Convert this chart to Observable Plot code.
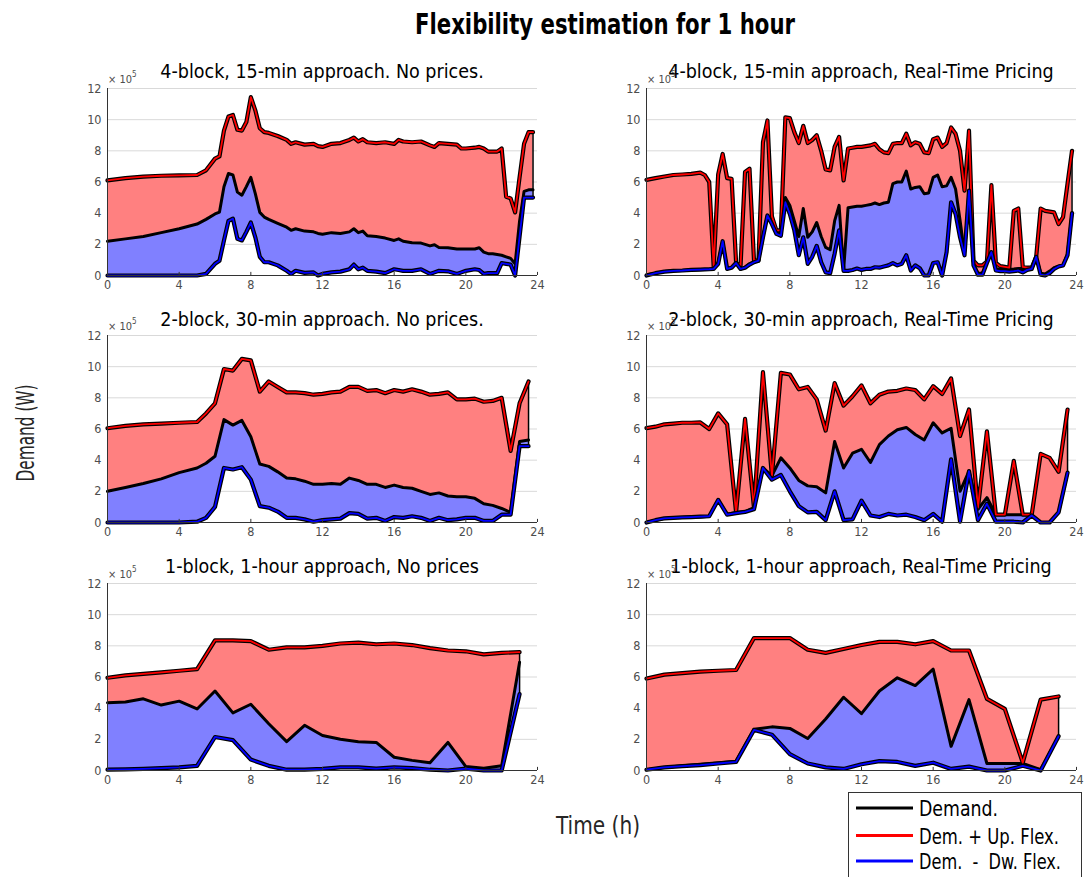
<!DOCTYPE html>
<html><head><meta charset="utf-8">
<script src="https://cdn.jsdelivr.net/npm/d3@7"></script>
<script src="https://cdn.jsdelivr.net/npm/@observablehq/plot@0.6"></script>
<style>
body{margin:0;background:#fff;}
#root{position:relative;width:1089px;height:877px;overflow:hidden;font-family:"Liberation Sans Narrow","DejaVu Sans Condensed",sans-serif;}
.panel{position:absolute;}
#overlay{position:absolute;left:0;top:0;pointer-events:none;}
</style></head><body><div id="root"></div>
<script>
// ---------- tick labels ----------
const xTicks = [0,4,8,12,16,20,24];
const yTicks = [0,2,4,6,8,10,12];

// ---------- 4-block, 15-min, No prices (values ×10^5 W) ----------
const tlT   = [0,1,2,3,4,5,5.5,6,6.25,6.5,6.75,7,7.25,7.5,7.75,8,8.25,8.5,8.75,9,9.5,10,10.25,10.5,11,11.5,11.75,12,12.5,13,13.5,13.75,14,14.25,14.5,15,15.5,16,16.25,16.5,17,17.5,18,18.25,18.5,19,19.5,19.75,20,20.5,20.75,21,21.25,21.5,21.75,22,22.25,22.5,22.75,23,23.25,23.5,23.75];
const tlUp  = [6.1,6.25,6.35,6.4,6.42,6.45,6.75,7.5,7.65,9.3,10.2,10.3,9.35,9.3,9.85,11.45,10.6,9.45,9.2,9.15,8.95,8.7,8.45,8.55,8.4,8.45,8.3,8.25,8.45,8.5,8.7,8.85,8.6,8.75,8.55,8.5,8.55,8.45,8.7,8.6,8.55,8.6,8.35,8.25,8.5,8.45,8.4,8.15,8.15,8.2,8.25,8.15,7.95,7.95,7.95,8.15,5.05,4.95,4.05,6.3,8.45,9.2,9.2];
const tlDem = [2.2,2.35,2.5,2.75,3.0,3.3,3.6,3.95,4.07,5.7,6.55,6.45,5.35,5.15,5.7,6.3,5.25,4.05,3.75,3.6,3.35,3.1,2.9,3.0,2.85,2.8,2.7,2.65,2.75,2.7,2.8,3.0,2.75,2.85,2.55,2.5,2.4,2.25,2.35,2.2,2.1,2.08,1.9,1.97,1.8,1.78,1.7,1.7,1.7,1.7,1.78,1.5,1.4,1.4,1.35,1.3,1.2,1.1,0.75,3.5,5.4,5.5,5.5];
const tlDw  = [0,0,0,0,0,0,0.1,0.75,0.95,2.25,3.5,3.65,2.35,2.25,2.8,3.4,2.45,1.2,0.85,0.85,0.65,0.3,0.1,0.3,0.17,0.2,0,0.1,0.2,0.25,0.4,0.7,0.4,0.5,0.3,0.25,0.15,0.4,0.35,0.3,0.3,0.4,0.1,0.2,0.3,0.27,0.1,0.2,0.3,0.4,0.35,0.1,0.15,0.15,0.15,0.8,0.75,0.7,0,2.5,5.0,5.0,5.0];

// ---------- 4-block, 15-min, Real-Time Pricing ----------
const trT   = [0,0.5,1,1.5,2,2.5,3,3.25,3.5,3.75,
  4,4.25,4.5,4.75,5,5.25,5.5,5.75,6,6.25,6.5,6.75,
  7,7.25,7.5,7.75,8,8.25,8.5,8.75,9,9.25,9.5,9.75,
  10,10.25,10.5,10.75,11,11.25,11.5,11.75,12,12.25,12.5,12.75,
  13,13.25,13.5,13.75,14,14.25,14.5,14.75,15,15.25,15.5,15.75,
  16,16.25,16.5,16.75,17,17.25,17.5,17.75,18,18.25,18.5,18.75,
  19,19.25,19.5,19.75,20,20.25,20.5,20.75,21,21.25,21.5,21.75,
  22,22.25,22.5,22.75,23,23.25,23.5,23.75];
const trUp  = [6.14,6.25,6.35,6.45,6.48,6.52,6.6,6.45,6.0,0.55,
  6.48,7.8,6.25,6.2,0.85,0.65,6.65,6.85,0.95,0.95,8.55,9.95,
  3.8,2.9,2.9,10.15,10.1,9.2,8.5,9.6,8.5,8.7,9.0,8.0,
  6.8,6.75,8.25,8.9,6.1,8.15,8.2,8.25,8.25,8.3,8.35,8.45,
  8.1,7.9,7.85,8.45,8.5,8.5,9.1,8.35,8.55,8.45,7.9,7.85,
  8.75,8.85,8.25,8.5,9.5,9.1,8.0,5.45,9.3,0.95,0.65,0.65,
  0.9,5.8,0.8,0.6,0.55,0.5,4.15,4.3,0.55,0.5,0.5,1.2,
  4.3,4.15,4.1,4.05,3.3,3.75,5.9,8.0];
const trDem = [0.05,0.15,0.25,0.3,0.32,0.36,0.38,0.39,0.4,0.42,
  0.85,2.2,0.42,0.53,0.85,0.42,0.53,0.75,0.9,0.95,2.45,3.85,
  3.3,2.78,2.6,5.0,4.5,3.5,2.5,4.3,2.45,2.8,3.4,2.5,
  1.8,1.65,3.5,4.5,0.3,4.35,4.4,4.45,4.45,4.5,4.55,4.65,
  4.55,4.65,4.7,5.9,6.0,6.0,6.7,5.55,5.65,5.7,5.25,5.3,
  6.3,6.45,5.7,5.75,6.3,5.55,3.55,1.4,5.45,0.75,0.15,0.15,
  0.85,1.5,0.42,0.42,0.42,0.4,0.42,0.45,0.45,0.42,0.45,1.2,
  0.15,0.1,0.28,0.5,0.6,0.65,1.4,4.0];
const trDw  = [0,0.15,0.25,0.3,0.32,0.36,0.38,0.39,0.4,0.42,
  0.75,2.2,0.42,0.5,0.8,0.42,0.5,0.7,0.85,0.95,2.45,3.85,
  3.3,2.67,2.55,4.7,3.95,2.9,1.3,2.45,0.75,1.2,1.9,0.85,
  0.2,0.15,1.4,2.9,0.3,0.3,0.35,0.45,0.36,0.42,0.42,0.53,
  0.5,0.58,0.65,0.8,0.65,0.75,1.3,0.32,0.65,0.47,0,0,
  0.8,0.85,0,1.5,4.7,3.95,2.45,1.3,5.45,0.65,0.05,0.05,
  0.8,1.5,0.32,0.28,0.28,0.25,0.28,0.32,0.2,0.36,0.42,1.2,
  0.05,0,0.15,0.42,0.58,0.65,1.3,4.0];

// ---------- 2-block, 30-min, No prices ----------
const mlT   = [0,1,2,3,4,5,5.5,6,6.5,7,7.5,8,8.5,9,9.5,10,10.5,11,11.5,12,12.5,13,13.5,14,14.5,15,15.5,16,16.5,17,17.5,18,18.5,19,19.5,20,20.5,21,21.5,22,22.5,23,23.5];
const mlUp  = [6.05,6.2,6.3,6.35,6.4,6.45,7.0,7.65,9.85,9.75,10.5,10.4,8.4,9.05,8.7,8.35,8.35,8.3,8.2,8.25,8.35,8.4,8.7,8.7,8.45,8.5,8.3,8.5,8.4,8.55,8.4,8.2,8.25,8.35,7.9,7.9,7.95,7.75,7.8,8.0,4.6,7.65,9.05];
const mlDem = [2.0,2.25,2.5,2.8,3.2,3.5,3.8,4.25,6.6,6.25,6.55,5.5,3.75,3.6,3.25,2.85,2.8,2.65,2.45,2.45,2.5,2.45,2.85,2.7,2.45,2.45,2.25,2.4,2.25,2.2,2.0,1.8,1.9,1.7,1.65,1.65,1.55,1.2,1.1,0.9,0.65,5.2,5.3];
const mlDw  = [0,0,0,0,0,0.05,0.3,1.0,3.5,3.4,3.55,2.75,1.05,0.95,0.7,0.3,0.3,0.2,0.05,0.15,0.2,0.25,0.6,0.55,0.25,0.3,0.1,0.35,0.3,0.4,0.3,0.1,0.3,0.15,0.2,0.3,0.3,0.1,0.1,0.5,0.5,4.9,4.9];

// ---------- 2-block, 30-min, Real-Time Pricing ----------
const mrT   = [0,0.5,1,1.5,2,2.5,3,3.5,4,4.5,5,5.5,6,6.5,7,7.5,8,8.5,9,9.5,10,10.5,11,11.5,12,12.5,13,13.5,14,14.5,15,15.5,16,16.5,17,17.5,18,18.5,19,19.5,20,20.5,21,21.5,22,22.5,23,23.5];
const mrUp  = [6.06,6.15,6.3,6.35,6.4,6.4,6.42,6.0,7.0,6.3,0.65,6.65,0.95,9.65,3.0,9.6,9.5,8.55,8.7,7.9,5.9,8.95,7.5,8.1,8.8,7.65,8.2,8.4,8.45,8.6,8.5,7.9,8.75,8.25,9.25,5.55,7.25,0.95,5.85,0.5,0.5,3.95,0.5,0.5,4.4,4.15,3.25,7.25];
const mrDem = [0.0,0.15,0.25,0.3,0.32,0.35,0.36,0.4,1.45,0.53,0.65,0.7,0.95,3.5,3.0,4.15,3.5,2.7,2.35,2.3,1.9,5.2,3.5,4.45,4.7,3.85,5.0,5.55,5.95,6.1,5.65,5.3,6.4,5.75,6.05,2.0,3.3,0.85,1.6,0.5,0.5,0.5,0.5,0.5,0,0,0.65,3.2];
const mrDw  = [0,0.15,0.27,0.3,0.33,0.35,0.38,0.4,1.45,0.5,0.6,0.68,0.85,3.5,2.75,3.05,2.0,1.05,0.65,0.68,0.15,2.0,0.15,0.2,1.4,0.45,0.35,0.55,0.45,0.5,0.35,0.15,0.55,0.05,4.05,0.05,3.3,0.15,1.2,0.05,0.05,0.05,0,0.45,0,0,0.65,3.2];

// ---------- 1-block, 1-hour, No prices ----------
const blT   = [0,1,2,3,4,5,6,7,8,9,10,11,12,13,14,15,16,17,18,19,20,21,22,23];
const blUp  = [5.95,6.1,6.2,6.3,6.4,6.5,8.35,8.35,8.3,7.75,7.9,7.9,8.0,8.15,8.2,8.1,8.15,8.05,7.85,7.7,7.65,7.45,7.55,7.6];
const blDem = [4.35,4.4,4.6,4.2,4.45,3.95,5.1,3.7,4.25,3.0,1.85,2.9,2.25,2.0,1.85,1.8,0.85,0.65,0.5,1.8,0.25,0.15,0.3,6.95];
const blDw  = [0.05,0.07,0.1,0.15,0.2,0.3,2.15,1.95,0.7,0.3,0.05,0.05,0.1,0.2,0.2,0.12,0.2,0.15,0.05,0,0.12,0,0,4.9];

// ---------- 1-block, 1-hour, Real-Time Pricing ----------
const brT   = [0,1,2,3,4,5,6,7,8,9,10,11,12,13,14,15,16,17,18,19,20,21,22,23];
const brUp  = [5.9,6.15,6.25,6.35,6.4,6.45,8.5,8.5,8.5,7.75,7.55,7.8,8.05,8.25,8.25,8.1,8.3,7.7,7.7,4.6,3.95,0.5,4.55,4.75];
const brDem = [0.05,0.2,0.3,0.4,0.5,0.6,2.65,2.8,2.7,2.05,3.3,4.7,3.65,5.1,5.95,5.45,6.5,1.55,4.55,0.45,0.45,0.45,0.05,2.2];
const brDw  = [0.05,0.2,0.28,0.35,0.45,0.55,2.6,2.3,1.05,0.45,0.2,0.1,0.4,0.6,0.55,0.3,0.5,0.1,0.25,0,0,0.3,0,2.2];

// ---------- text ----------
const mainTitle = "Flexibility estimation for 1 hour";
const panelTitles = [
  "4-block, 15-min approach. No prices.", "4-block, 15-min approach, Real-Time Pricing",
  "2-block, 30-min approach. No prices.", "2-block, 30-min approach, Real-Time Pricing",
  "1-block, 1-hour approach, No prices", "1-block, 1-hour approach, Real-Time Pricing"
];
const legendLabels = ["Demand.", "Dem. + Up. Flex.", "Dem.  -  Dw. Flex."];
const legendColors = ["#000000", "#ff0000", "#0000ff"];

// ---------- layout ----------
const FONT = '"Liberation Sans Narrow","DejaVu Sans Condensed",sans-serif';
const colLeft = [107, 646];
const rowTop = [88, 335, 583];
const PW = 430, PH = 187;
const M = {left: 34, right: 12, top: 6, bottom: 26};

const series = [
  [tlT, tlUp, tlDem, tlDw], [trT, trUp, trDem, trDw],
  [mlT, mlUp, mlDem, mlDw], [mrT, mrUp, mrDem, mrDw],
  [blT, blUp, blDem, blDw], [brT, brUp, brDem, brDw]
];

const root = document.getElementById("root");

series.forEach(([t, up, dem, dw], k) => {
  const rows = t.map((x, i) => ({t: x, up: up[i], dem: dem[i], dw: dw[i]}));
  const col = k % 2, row = Math.floor(k / 2);
  const chart = Plot.plot({
    width: PW + M.left + M.right,
    height: PH + M.top + M.bottom,
    marginLeft: M.left, marginRight: M.right, marginTop: M.top, marginBottom: M.bottom,
    style: {fontFamily: FONT, fontSize: "12.5px", color: "#4d4d4d", background: "transparent", overflow: "visible"},
    x: {domain: [0, 24], ticks: xTicks, tickSize: 0, tickPadding: 5, label: null},
    y: {domain: [0, 12], ticks: yTicks, tickSize: 0, tickPadding: 6, label: null},
    marks: [
      Plot.ruleY(yTicks.slice(1), {stroke: "#d9d9d9", strokeWidth: 1}),
      Plot.areaY(rows, {x: "t", y1: "dem", y2: "up", fill: "#ff8080"}),
      Plot.areaY(rows, {x: "t", y1: "dw", y2: "dem", fill: "#8080ff"}),
      Plot.ruleX(rows.slice(-1), {x: "t", y1: "dw", y2: "up", stroke: "#000", strokeWidth: 1.5}),
      Plot.lineY(rows, {x: "t", y: "dem", stroke: "#000", strokeWidth: 3}),
      Plot.lineY(rows, {x: "t", y: "up", stroke: "#000", strokeWidth: 4.2}),
      Plot.lineY(rows, {x: "t", y: "up", stroke: "#ff0000", strokeWidth: 1.8}),
      Plot.lineY(rows, {x: "t", y: "dw", stroke: "#000", strokeWidth: 4.2}),
      Plot.lineY(rows, {x: "t", y: "dw", stroke: "#0000ff", strokeWidth: 1.8}),
      Plot.ruleY([0], {stroke: "#333", strokeWidth: 1}),
      Plot.ruleX([0], {stroke: "#333", strokeWidth: 1}),
      Plot.ruleX(xTicks, {y1: 0, y2: 0.2, stroke: "#333", strokeWidth: 1})
    ]
  });
  const wrap = document.createElement("div");
  wrap.className = "panel";
  wrap.style.left = (colLeft[col] - M.left) + "px";
  wrap.style.top = (rowTop[row] - M.top) + "px";
  wrap.appendChild(chart);
  root.appendChild(wrap);
});

// ---------- overlay text ----------
const svg = d3.select(root).append("svg").attr("id", "overlay")
  .attr("width", 1089).attr("height", 877).style("font-family", FONT);

svg.append("text").attr("x", 605).attr("y", 34).attr("text-anchor", "middle")
  .attr("font-size", 28).attr("font-weight", "bold").attr("fill", "#000")
  .attr("textLength", 380).attr("lengthAdjust", "spacingAndGlyphs").text(mainTitle);

const titleBase = [78, 325.5, 572.5];
panelTitles.forEach((s, k) => {
  const col = k % 2, row = Math.floor(k / 2);
  svg.append("text").attr("x", colLeft[col] + PW / 2).attr("y", titleBase[row])
    .attr("text-anchor", "middle").attr("font-size", 19.5).attr("fill", "#000").text(s);
  const e = svg.append("text").attr("x", colLeft[col] + 1).attr("y", rowTop[row] - 5)
    .attr("font-size", 11).attr("fill", "#4d4d4d");
  e.append("tspan").text("\u00d7 10");
  e.append("tspan").attr("dy", -6).attr("font-size", 8).text("5");
});

svg.append("text").attr("transform", "translate(34,433) rotate(-90)").attr("text-anchor", "middle")
  .attr("font-size", 24).attr("fill", "#262626")
  .attr("textLength", 97).attr("lengthAdjust", "spacingAndGlyphs").text("Demand (W)");
svg.append("text").attr("x", 598).attr("y", 834).attr("text-anchor", "middle")
  .attr("font-size", 24).attr("fill", "#262626")
  .attr("textLength", 84).attr("lengthAdjust", "spacingAndGlyphs").text("Time (h)");

// legend
const lg = svg.append("g");
lg.append("rect").attr("x", 848.5).attr("y", 792.5).attr("width", 233).attr("height", 100)
  .attr("fill", "#fff").attr("stroke", "#333").attr("stroke-width", 1);
const lgY = [808, 835.5, 861];
const lgLen = [79, 140, 142];
legendLabels.forEach((s, i) => {
  lg.append("line").attr("x1", 856).attr("x2", 913).attr("y1", lgY[i]).attr("y2", lgY[i])
    .attr("stroke", legendColors[i]).attr("stroke-width", 3);
  lg.append("text").attr("x", 919).attr("y", lgY[i] + 8).attr("font-size", 22).attr("fill", "#000")
    .attr("textLength", lgLen[i]).attr("lengthAdjust", "spacingAndGlyphs")
    .style("white-space", "pre").text(s);
});
</script>
</body></html>
